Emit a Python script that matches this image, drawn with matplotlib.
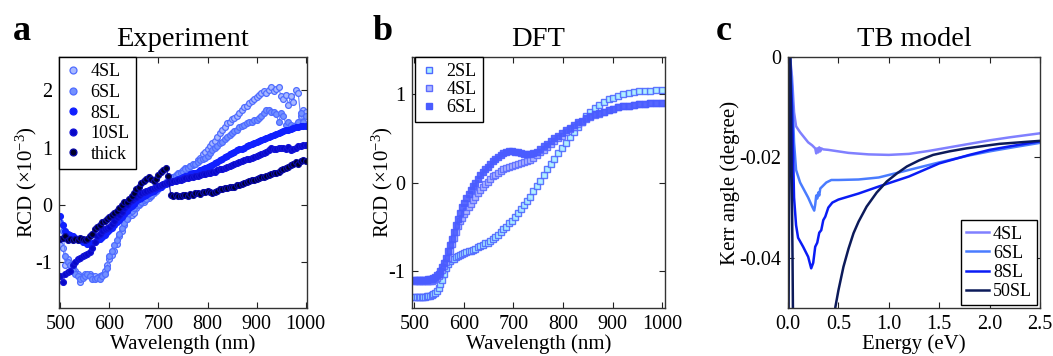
import numpy as np
import matplotlib
matplotlib.use("Agg")
import matplotlib.pyplot as plt

plt.rcParams['font.family'] = ['Liberation Serif', 'DejaVu Serif']
plt.rcParams['mathtext.fontset'] = 'custom'
plt.rcParams['mathtext.rm'] = 'Liberation Serif'
plt.rcParams['mathtext.it'] = 'Liberation Serif:italic'
plt.rcParams['axes.unicode_minus'] = False

# ---------------- Panel a: Experiment ----------------
wl_exp = np.arange(500, 1001, 5)
exp_4sl = [-0.70, -0.75, -1.05, -0.95, -1.05, -1.10, -1.15, -1.20, -1.35, -1.25,
           -1.20, -1.22, -1.20, -1.25, -1.25, -1.28, -1.25, -1.22, -1.15, -1.05,
           -0.95, -0.88, -0.80, -0.68, -0.55, -0.45, -0.35, -0.25, -0.20, -0.18,
           -0.15, -0.05, 0.00, 0.03, 0.05, 0.10, 0.12, 0.15, 0.20, 0.25,
           0.30, 0.33, 0.36, 0.40, 0.42, 0.45, 0.48, 0.52, 0.55, 0.57,
           0.60, 0.65, 0.62, 0.68, 0.70, 0.72, 0.78, 0.82, 0.88, 0.92,
           0.98, 1.02, 1.08, 1.12, 1.18, 1.25, 1.30, 1.35, 1.42, 1.45,
           1.50, 1.52, 1.55, 1.60, 1.65, 1.70, 1.72, 1.78, 1.82, 1.85,
           1.88, 1.92, 1.95, 1.98, 1.96, 2.00, 2.05, 1.98, 2.03, 2.05,
           1.90, 1.85, 1.92, 1.75, 1.90, 1.80, 2.00, 1.95, 1.55, 1.65,
           1.62]
exp_6sl = [-0.30, -0.45, -0.90, -1.00, -1.05, -1.15, -1.20, -1.25, -1.30, -1.28,
           -1.25, -1.20, -1.25, -1.30, -1.30, -1.28, -1.30, -1.25, -1.20, -1.10,
           -0.90, -0.80, -0.70, -0.62, -0.50, -0.40, -0.32, -0.25, -0.15, -0.10,
           -0.05, 0.00, 0.02, 0.05, 0.08, 0.10, 0.15, 0.18, 0.22, 0.25,
           0.28, 0.32, 0.35, 0.38, 0.42, 0.45, 0.48, 0.50, 0.53, 0.56,
           0.58, 0.62, 0.65, 0.68, 0.72, 0.72, 0.75, 0.78, 0.80, 0.82,
           0.86, 0.90, 0.95, 1.00, 1.02, 1.08, 1.10, 1.15, 1.18, 1.22,
           1.25, 1.28, 1.30, 1.35, 1.38, 1.40, 1.42, 1.45, 1.45, 1.48,
           1.48, 1.52, 1.55, 1.60, 1.65, 1.65, 1.62, 1.62, 1.58, 1.45,
           1.60, 1.55, 1.40, 1.45, 1.40, 1.35, 1.40, 1.45, 1.60, 1.45,
           1.55]
exp_8sl = [-0.20, -0.35, -0.45, -0.50, -0.52, -0.55, -0.58, -0.60, -0.62, -0.65,
           -0.65, -0.68, -0.68, -0.66, -0.64, -0.62, -0.60, -0.56, -0.52, -0.48,
           -0.44, -0.40, -0.35, -0.30, -0.26, -0.22, -0.16, -0.10, -0.06, -0.02,
           0.02, 0.06, 0.10, 0.12, 0.15, 0.18, 0.20, 0.22, 0.25, 0.28,
           0.30, 0.32, 0.34, 0.36, 0.38, 0.40, 0.42, 0.43, 0.45, 0.46,
           0.48, 0.50, 0.51, 0.53, 0.55, 0.56, 0.58, 0.60, 0.62, 0.64,
           0.66, 0.68, 0.70, 0.73, 0.75, 0.78, 0.80, 0.83, 0.85, 0.88,
           0.90, 0.92, 0.95, 0.97, 0.98, 1.00, 1.02, 1.04, 1.06, 1.08,
           1.10, 1.12, 1.13, 1.15, 1.17, 1.18, 1.20, 1.22, 1.24, 1.25,
           1.27, 1.28, 1.30, 1.31, 1.33, 1.34, 1.35, 1.36, 1.37, 1.38,
           1.38]
exp_10sl = [-1.25, -1.35, -1.20, -1.18, -1.15, -1.05, -1.00, -0.95, -0.92, -0.90,
            -0.88, -0.85, -0.82, -0.75, -0.65, -0.55, -0.50, -0.45, -0.42, -0.40,
            -0.38, -0.33, -0.28, -0.22, -0.17, -0.12, -0.06, 0.00, 0.05, 0.08,
            0.12, 0.14, 0.17, 0.20, 0.22, 0.24, 0.26, 0.28, 0.30, 0.31,
            0.33, 0.35, 0.36, 0.38, 0.39, 0.40, 0.41, 0.42, 0.43, 0.44,
            0.45, 0.46, 0.47, 0.48, 0.49, 0.50, 0.51, 0.52, 0.53, 0.54,
            0.55, 0.56, 0.57, 0.58, 0.60, 0.62, 0.63, 0.65, 0.66, 0.68,
            0.70, 0.72, 0.73, 0.75, 0.76, 0.78, 0.80, 0.80, 0.82, 0.84,
            0.85, 0.87, 0.88, 0.90, 0.92, 0.95, 1.00, 0.98, 0.97, 1.00,
            0.99, 1.00, 0.98, 1.01, 0.96, 0.98, 1.00, 1.02, 1.03, 1.04,
            1.05]
exp_thick = [-0.60, -0.58, -0.55, -0.62, -0.60, -0.62, -0.60, -0.62, -0.58, -0.60,
             -0.62, -0.60, -0.55, -0.50, -0.42, -0.38, -0.35, -0.30, -0.28, -0.25,
             -0.22, -0.18, -0.15, -0.10, -0.05, 0.00, 0.05, 0.05, 0.10, 0.15,
             0.20, 0.28, 0.32, 0.38, 0.42, 0.45, 0.48, 0.45, 0.42, 0.45,
             0.52, 0.58, 0.60, 0.65, 0.50, 0.18, 0.15, 0.17, 0.15, 0.16,
             0.17, 0.18, 0.16, 0.19, 0.18, 0.20, 0.21, 0.19, 0.22, 0.23,
             0.25, 0.22, 0.20, 0.22, 0.25, 0.27, 0.28, 0.29, 0.30, 0.31,
             0.32, 0.32, 0.34, 0.35, 0.36, 0.38, 0.40, 0.42, 0.43, 0.44,
             0.45, 0.46, 0.48, 0.49, 0.50, 0.52, 0.53, 0.55, 0.56, 0.58,
             0.60, 0.62, 0.64, 0.66, 0.70, 0.72, 0.74, 0.72, 0.76, 0.78,
             0.77]
exp_labels = ['4SL', '6SL', '8SL', '10SL', 'thick']

# ---------------- Panel b: DFT (computed on a uniform photon-energy grid) ----------------
energy_dft = np.linspace(2.485, 1.24, 84)          # eV, descending -> wavelength ascending
wl_dft = 1240.0 / energy_dft                        # nm
dft_2sl = [-1.29, -1.29, -1.29, -1.29, -1.29, -1.29, -1.29, -1.29, -1.28, -1.28,
           -1.28, -1.27, -1.26, -1.25, -1.23, -1.19, -1.15, -1.10, -1.03, -0.97,
           -0.92, -0.89, -0.87, -0.86, -0.84, -0.83, -0.82, -0.81, -0.80, -0.79,
           -0.78, -0.77, -0.76, -0.75, -0.73, -0.72, -0.71, -0.69, -0.68, -0.66,
           -0.64, -0.62, -0.59, -0.56, -0.53, -0.50, -0.46, -0.43, -0.39, -0.34,
           -0.30, -0.26, -0.21, -0.16, -0.10, -0.04, 0.02, 0.09, 0.15, 0.21,
           0.27, 0.33, 0.39, 0.45, 0.51, 0.57, 0.63, 0.69, 0.75, 0.80,
           0.84, 0.88, 0.91, 0.94, 0.96, 0.98, 1.00, 1.01, 1.02, 1.03,
           1.04, 1.04, 1.05, 1.05]
dft_4sl = [-1.12, -1.12, -1.12, -1.12, -1.12, -1.12, -1.12, -1.12, -1.12, -1.11,
           -1.11, -1.11, -1.10, -1.09, -1.08, -1.06, -1.03, -0.99, -0.95, -0.90,
           -0.85, -0.78, -0.70, -0.63, -0.56, -0.49, -0.44, -0.40, -0.36, -0.32,
           -0.28, -0.24, -0.20, -0.16, -0.12, -0.08, -0.05, -0.02, 0.01, 0.04,
           0.07, 0.09, 0.11, 0.13, 0.15, 0.16, 0.18, 0.19, 0.20, 0.21,
           0.22, 0.23, 0.24, 0.26, 0.28, 0.31, 0.34, 0.37, 0.40, 0.44,
           0.47, 0.50, 0.53, 0.57, 0.60, 0.63, 0.66, 0.69, 0.72, 0.74,
           0.76, 0.78, 0.80, 0.82, 0.83, 0.85, 0.86, 0.87, 0.88, 0.89,
           0.89, 0.90, 0.90, 0.90]
dft_6sl = [-1.10, -1.10, -1.10, -1.10, -1.10, -1.10, -1.10, -1.10, -1.10, -1.09,
           -1.09, -1.09, -1.08, -1.07, -1.05, -1.03, -1.00, -0.96, -0.91, -0.85,
           -0.78, -0.71, -0.64, -0.56, -0.48, -0.41, -0.34, -0.28, -0.23, -0.18,
           -0.13, -0.08, -0.04, 0.00, 0.04, 0.08, 0.12, 0.15, 0.18, 0.21,
           0.24, 0.27, 0.29, 0.31, 0.33, 0.35, 0.36, 0.36, 0.35, 0.34,
           0.33, 0.32, 0.32, 0.32, 0.33, 0.35, 0.38, 0.41, 0.44, 0.47,
           0.50, 0.53, 0.56, 0.59, 0.62, 0.65, 0.68, 0.70, 0.73, 0.75,
           0.77, 0.79, 0.80, 0.82, 0.83, 0.85, 0.86, 0.87, 0.88, 0.89,
           0.89, 0.90, 0.90, 0.90]
dft_labels = ['2SL', '4SL', '6SL']

# ---------------- Panel c: TB model ----------------
energy_4sl = [0.0, 0.02, 0.04, 0.06, 0.08, 0.12, 0.16, 0.20, 0.24, 0.27, 0.28, 0.29,
              0.30, 0.31, 0.32, 0.33, 0.35, 0.40, 0.50, 0.60, 0.80, 1.00, 1.20,
              1.40, 1.60, 1.80, 2.00, 2.20, 2.50]
kerr_4sl = [-0.0005, 0.0, -0.004, -0.011, -0.0138, -0.0150, -0.0160, -0.0170, -0.0176,
            -0.0182, -0.0192, -0.0182, -0.0190, -0.0180, -0.0188, -0.0182, -0.0184,
            -0.0185, -0.0188, -0.0191, -0.0194, -0.0195, -0.0193, -0.0187, -0.0180,
            -0.0173, -0.0166, -0.0160, -0.0152]
energy_6sl = [0.0, 0.02, 0.04, 0.06, 0.08, 0.12, 0.16, 0.20, 0.24, 0.26, 0.27, 0.28,
              0.29, 0.30, 0.31, 0.32, 0.34, 0.38, 0.43, 0.50, 0.70, 0.90, 1.00,
              1.20, 1.50, 1.80, 2.00, 2.20, 2.50]
kerr_6sl = [-0.0005, 0.0, -0.006, -0.017, -0.0225, -0.0250, -0.0265, -0.0280, -0.0298,
            -0.0306, -0.0294, -0.0276, -0.0282, -0.0270, -0.0276, -0.0262, -0.0258,
            -0.0250, -0.0245, -0.0245, -0.0244, -0.0240, -0.0235, -0.0225, -0.0210,
            -0.0196, -0.0188, -0.0181, -0.0171]
energy_8sl = [0.0, 0.02, 0.04, 0.06, 0.08, 0.10, 0.15, 0.20, 0.23, 0.25, 0.27, 0.29,
              0.31, 0.33, 0.35, 0.37, 0.40, 0.44, 0.50, 0.70, 0.90, 1.20, 1.50,
              1.80, 2.00, 2.20, 2.50]
kerr_8sl = [-0.0005, 0.0, -0.010, -0.028, -0.0335, -0.0360, -0.0378, -0.0398, -0.0421,
            -0.0410, -0.0378, -0.0370, -0.0350, -0.0345, -0.0325, -0.0318, -0.0300,
            -0.0290, -0.0284, -0.0272, -0.0258, -0.0238, -0.0212, -0.0195, -0.0185,
            -0.0178, -0.0168]
energy_50sl = [0.0, 0.01, 0.02, 0.03, 0.045, 0.06, 0.10, 0.30, 0.44, 0.47, 0.50, 0.55,
               0.60, 0.65, 0.70, 0.78, 0.88, 0.98, 1.08, 1.18, 1.30, 1.44, 1.60,
               1.77, 1.95, 2.10, 2.30, 2.50]
kerr_50sl = [-0.080, -0.030, 0.0, -0.010, -0.040, -0.080, -0.120, -0.100, -0.056,
             -0.0498, -0.0465, -0.0418, -0.0382, -0.0351, -0.0328, -0.0298, -0.0270,
             -0.0248, -0.0232, -0.0218, -0.0206, -0.0195, -0.0188, -0.0182, -0.0177,
             -0.0173, -0.0170, -0.0167]
tb_labels = ['4SL', '6SL', '8SL', '50SL']

# ---------------- Figure ----------------
fig = plt.figure(figsize=(10.53, 3.56), dpi=100)
W, H = 1053.0, 356.0

def add_ax(left, right, top=57, bottom=308):
    return fig.add_axes([left / W, 1 - bottom / H, (right - left) / W, (bottom - top) / H])

axa = add_ax(59, 307)
axb = add_ax(412, 665)
axc = add_ax(788, 1040)

tick_fs = 14.5
label_fs = 15
title_fs = 20.5
leg_fs = 13

def style(ax):
    ax.tick_params(direction='in', top=True, right=True, length=4, width=0.8,
                   labelsize=tick_fs, pad=5, color='#222222')
    for s in ax.spines.values():
        s.set_linewidth(1.0)
        s.set_color('#333333')

def boxed(leg):
    fr = leg.get_frame()
    fr.set_linewidth(1.0)
    fr.set_edgecolor('black')

# Panel a
exp_series = [exp_4sl, exp_6sl, exp_8sl, exp_10sl, exp_thick]
exp_face = ['#a9b9ff', '#7391ff', '#1020ff', '#0808c8', '#00002a']
exp_edge = ['#4f6cff', '#4f6cff', '#1020ff', '#1414d8', '#0a0aa8']
exp_line = ['#6a86ff', '#6a86ff', '#1020ff', '#1414d8', '#0a0aa8']
for vals, fc, ec, lc, lab in zip(exp_series, exp_face, exp_edge, exp_line, exp_labels):
    axa.plot(wl_exp, vals, '-', color=lc, lw=0.8, marker='o', ms=4.2, mfc=fc, mec=ec,
             mew=0.9, label=lab)
axa.set_xlim(497, 1003)
axa.set_ylim(-1.8, 2.58)
axa.set_xticks([500, 600, 700, 800, 900, 1000])
axa.set_yticks([-1, 0, 1, 2])
style(axa)
axa.set_xlabel('Wavelength (nm)', fontsize=label_fs, labelpad=0)
axa.set_ylabel(r'RCD ($\times$10$^{\mathregular{-3}}$)', fontsize=label_fs, labelpad=-3)
axa.set_title('Experiment', fontsize=title_fs, pad=8)
handles = [plt.Line2D([], [], ls='', marker='o', ms=5, mfc=fc, mec=ec, mew=0.9)
           for fc, ec in zip(exp_face, exp_edge)]
leg = axa.legend(handles, exp_labels, loc='upper left', bbox_to_anchor=(0, 1),
                 borderaxespad=0, fontsize=leg_fs, handlelength=0.8, handletextpad=0.6,
                 labelspacing=0.2, borderpad=0.35, fancybox=False, framealpha=1)
boxed(leg)

# Panel b
dft_series = [dft_2sl, dft_4sl, dft_6sl]
dft_face = ['#a8efff', '#b0b8ff', '#4a5cff']
dft_edge = ['#5068ff', '#5c6cff', '#4a5cff']
for vals, fc, ec, lab in zip(dft_series, dft_face, dft_edge, dft_labels):
    axb.plot(wl_dft, vals, ls='', marker='s', ms=4.6, mfc=fc, mec=ec, mew=1.0,
             alpha=0.9, label=lab)
axb.set_xlim(495, 1006)
axb.set_ylim(-1.42, 1.42)
axb.set_xticks([500, 600, 700, 800, 900, 1000])
axb.set_yticks([-1, 0, 1])
style(axb)
axb.set_xlabel('Wavelength (nm)', fontsize=label_fs, labelpad=0)
axb.set_ylabel(r'RCD ($\times$10$^{\mathregular{-3}}$)', fontsize=label_fs, labelpad=-5)
axb.set_title('DFT', fontsize=title_fs, pad=8)
handles = [plt.Line2D([], [], ls='', marker='s', ms=5, mfc=fc, mec=ec, mew=1.0)
           for fc, ec in zip(dft_face, dft_edge)]
leg = axb.legend(handles, dft_labels, loc='upper left', bbox_to_anchor=(0.012, 1),
                 borderaxespad=0, fontsize=leg_fs, handlelength=0.8, handletextpad=0.6,
                 labelspacing=0.05, borderpad=0.35, fancybox=False, framealpha=1)
boxed(leg)

# Panel c
tb_x = [energy_4sl, energy_6sl, energy_8sl, energy_50sl]
tb_y = [kerr_4sl, kerr_6sl, kerr_8sl, kerr_50sl]
tb_col = ['#8080ff', '#4a7cff', '#0a1cf5', '#0c1a5a']
for xs, ys, c, lab in zip(tb_x, tb_y, tb_col, tb_labels):
    axc.plot(xs, ys, '-', color=c, lw=1.8, label=lab)
axc.set_xlim(0, 2.5)
axc.set_ylim(-0.05, 0)
axc.set_xticks([0.0, 0.5, 1.0, 1.5, 2.0, 2.5])
axc.set_xticklabels(['0.0', '0.5', '1.0', '1.5', '2.0', '2.5'])
axc.set_yticks([-0.04, -0.02, 0])
axc.set_yticklabels(['-0.04', '-0.02', '0'])
style(axc)
axc.set_xlabel('Energy (eV)', fontsize=label_fs, labelpad=0)
axc.set_ylabel('Kerr angle (degree)', fontsize=label_fs, labelpad=-1)
axc.set_title('TB model', fontsize=title_fs, pad=8)
leg = axc.legend(loc='lower right', bbox_to_anchor=(0.99, 0.01), borderaxespad=0,
                 fontsize=leg_fs, handlelength=1.3, handletextpad=0.2,
                 labelspacing=0.12, borderpad=0.3, fancybox=False, framealpha=1)
boxed(leg)

# Panel letters
for x, letter in [(13, 'a'), (373, 'b'), (716, 'c')]:
    fig.text(x / W, 1 - 40 / H, letter, fontsize=26, fontweight='bold', ha='left',
             va='baseline')

fig.savefig('out.png', dpi=100)
